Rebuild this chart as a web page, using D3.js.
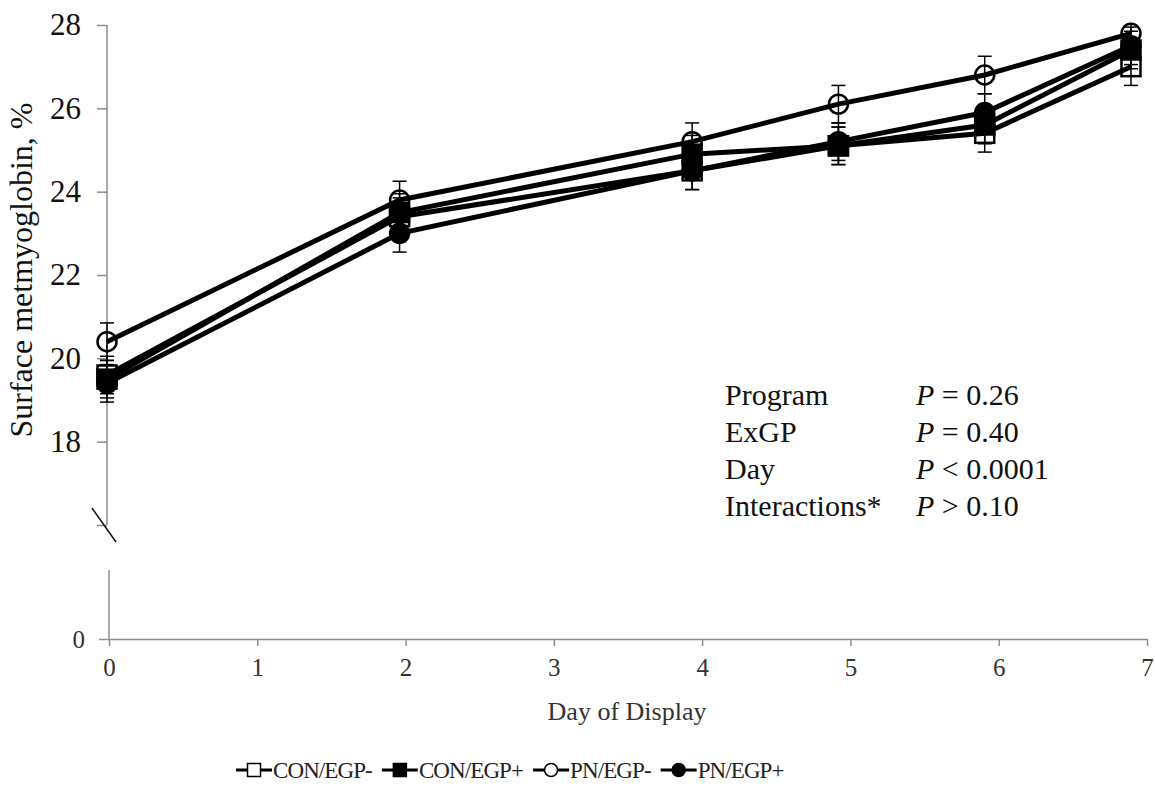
<!DOCTYPE html>
<html>
<head>
<meta charset="utf-8">
<script src="https://cdn.jsdelivr.net/npm/d3@7"></script>
<style>
  body { margin: 0; background: #fff; }
  text { font-family: "Liberation Serif", "Times New Roman", serif; }
</style>
</head>
<body>
<div id="container"></div>
<script>
// days of display
let days = [0, 2, 4, 5, 6, 7];
let seriesNames = ["CON/EGP-", "CON/EGP+", "PN/EGP-", "PN/EGP+"];
let conMinus = [19.6, 23.4, 24.5, 25.1, 25.4, 27.0];
let conPlus  = [19.5, 23.5, 24.9, 25.1, 25.6, 27.4];
let pnMinus  = [20.4, 23.8, 25.2, 26.1, 26.8, 27.8];
let pnPlus   = [19.4, 23.0, 24.5, 25.2, 25.9, 27.5];
// standard errors
let seConMinus = [0.45, 0.45, 0.45, 0.45, 0.45, 0.45];
let seConPlus  = [0.45, 0.45, 0.45, 0.45, 0.45, 0.45];
let sePnMinus  = [0.45, 0.45, 0.45, 0.45, 0.45, 0.45];
let sePnPlus   = [0.45, 0.45, 0.45, 0.45, 0.45, 0.45];
let yTicksTop = [16, 18, 20, 22, 24, 26, 28];
let xTicks = [0, 1, 2, 3, 4, 5, 6, 7];
let statLabels = ["Program", "ExGP", "Day", "Interactions*"];
let statSigns = ["=", "=", "<", ">"];
let statValues = ["0.26", "0.40", "0.0001", "0.10"];

let w = 1155;
let h = 790;
let axisGray = "#8c8c8c";

let viz = d3.select("#container")
  .append("svg")
    .attr("width", w)
    .attr("height", h)
;

// upper panel (the data part)
let xData = d3.scaleLinear().domain([0, 7]).range([107, 1131]);
let yTop = d3.scaleLinear().domain([16, 28]).range([525, 25]);

// lower panel (just the zero stub + day axis)
let xBottom = d3.scaleLinear().domain([0, 7]).range([109, 1147]);
let yBottom = d3.scaleLinear().domain([0, 1]).range([639, 570]);

// the upper plot clips everything above 28 like the spreadsheet does
viz.append("clipPath").attr("id", "plotclip")
  .append("rect")
    .attr("x", 0).attr("y", yTop(28))
    .attr("width", w).attr("height", yTop(16) - yTop(28));

let yAxisTop = d3.axisLeft(yTop)
  .tickValues(yTicksTop)
  .tickSize(10)
  .tickPadding(16)
  .tickFormat(function(d){ return d == 16 ? "" : d; })
;
let yAxisTopGroup = viz.append("g")
    .attr("class", "yaxistop")
    .attr("transform", "translate(" + xData(0) + ",0)")
    .call(yAxisTop)
;
yAxisTopGroup.select(".domain").attr("d", "M0," + yTop(16) + "V" + yTop(28));
yAxisTopGroup.selectAll("line, path").attr("stroke", axisGray).attr("stroke-width", 1.5);
yAxisTopGroup.selectAll("text")
  .attr("font-size", 31)
  .attr("fill", "#111");

// break mark
viz.append("line")
  .attr("x1", xData(0) - 15).attr("y1", yTop(16) - 17)
  .attr("x2", xData(0) + 9).attr("y2", yTop(16) + 17)
  .attr("stroke", "#111").attr("stroke-width", 1.5);

let yAxisBottom = d3.axisLeft(yBottom)
  .tickValues([0])
  .tickSize(10)
  .tickPadding(14)
  .tickFormat(d3.format("d"))
;
let yAxisBottomGroup = viz.append("g")
    .attr("transform", "translate(" + xBottom(0) + ",0)")
    .call(yAxisBottom)
;
yAxisBottomGroup.select(".domain").attr("d", "M0," + yBottom(1) + "V" + yBottom(0));
yAxisBottomGroup.selectAll("line, path").attr("stroke", axisGray).attr("stroke-width", 1.5);
yAxisBottomGroup.selectAll("text").attr("font-size", 25).attr("fill", "#333");

let xAxis = d3.axisBottom(xBottom)
  .tickValues(xTicks)
  .tickSize(7)
  .tickPadding(12)
  .tickSizeOuter(0)
  .tickFormat(d3.format("d"))
;
let xAxisGroup = viz.append("g")
    .attr("transform", "translate(0," + yBottom(0) + ")")
    .call(xAxis)
;
xAxisGroup.selectAll("line, path").attr("stroke", axisGray).attr("stroke-width", 1.5);
xAxisGroup.selectAll("text").attr("font-size", 25).attr("fill", "#333");

// axis titles
viz.append("text")
  .attr("transform", "translate(32,270) rotate(-90)")
  .attr("text-anchor", "middle")
  .attr("font-size", 32)
  .attr("fill", "#111")
  .text("Surface metmyoglobin, %");

viz.append("text")
  .attr("x", 627)
  .attr("y", 720)
  .attr("text-anchor", "middle")
  .attr("font-size", 26)
  .attr("fill", "#333")
  .text("Day of Display");

// statistics annotation
let stats = viz.append("g").attr("class", "stats");
statLabels.forEach(function(lab, i){
  let yy = 405 + i * 37;
  stats.append("text")
    .attr("x", 725).attr("y", yy)
    .attr("font-size", 30).attr("fill", "#111")
    .text(lab);
  let t = stats.append("text")
    .attr("x", 916).attr("y", yy)
    .attr("font-size", 30).attr("fill", "#111");
  t.append("tspan").attr("font-style", "italic").text("P");
  t.append("tspan").text(" " + statSigns[i] + " " + statValues[i]);
});

// build series
let allValues = [conMinus, conPlus, pnMinus, pnPlus];
let allSE = [seConMinus, seConPlus, sePnMinus, sePnPlus];
let shapes = ["square", "square", "circle", "circle"];
let filled = [false, true, false, true];

let series = seriesNames.map(function(name, s){
  return {
    name: name,
    shape: shapes[s],
    filled: filled[s],
    points: days.map(function(d, i){
      return { day: d, value: allValues[s][i], se: allSE[s][i] };
    })
  };
});

let lineMaker = d3.line()
  .x(function(d){ return xData(d.day); })
  .y(function(d){ return yTop(d.value); })
;

function drawMarker(g, shape, isFilled, size){
  if(shape == "square"){
    g.append("rect")
      .attr("x", -size / 2).attr("y", -size / 2)
      .attr("width", size).attr("height", size)
      .attr("fill", isFilled ? "#000" : "none")
      .attr("stroke", "#000")
      .attr("stroke-width", size > 14 ? 2.5 : 1.5);
  }else{
    g.append("circle")
      .attr("r", size / 2)
      .attr("fill", isFilled ? "#000" : "none")
      .attr("stroke", "#000")
      .attr("stroke-width", size > 14 ? 2.5 : 1.5);
  }
}

let graphGroup = viz.append("g").attr("class", "graphGroup");

series.forEach(function(sr){
  let sg = graphGroup.append("g");
  sg.append("path")
    .attr("d", lineMaker(sr.points))
    .attr("fill", "none")
    .attr("stroke", "#000")
    .attr("stroke-width", 5);

  sr.points.forEach(function(p){
    let mg = sg.append("g")
      .attr("transform", "translate(" + xData(p.day) + "," + yTop(p.value) + ")");
    drawMarker(mg, sr.shape, sr.filled, 19);
  });

  let eg = sg.append("g").attr("clip-path", "url(#plotclip)");
  sr.points.forEach(function(p){
    let ex = xData(p.day);
    let yHi = yTop(p.value + p.se);
    let yLo = yTop(p.value - p.se);
    eg.append("line")
      .attr("x1", ex).attr("x2", ex).attr("y1", yHi).attr("y2", yLo)
      .attr("stroke", "#000").attr("stroke-width", 1.5);
    [yHi, yLo].forEach(function(cy){
      eg.append("line")
        .attr("x1", ex - 7).attr("x2", ex + 7).attr("y1", cy).attr("y2", cy)
        .attr("stroke", "#000").attr("stroke-width", 1.5);
    });
  });
});

// legend
let legend = viz.append("g").attr("class", "legend");
let lx = 236;
let ly = 770;
series.forEach(function(sr){
  let item = legend.append("g").attr("transform", "translate(" + lx + "," + ly + ")");
  item.append("line")
    .attr("x1", 0).attr("x2", 36).attr("y1", 0).attr("y2", 0)
    .attr("stroke", "#000").attr("stroke-width", 3);
  let mg = item.append("g").attr("transform", "translate(18,0)");
  drawMarker(mg, sr.shape, sr.filled, 13);
  if(!sr.filled){ mg.select("rect, circle").attr("fill", "#fff"); }
  let t = item.append("text")
    .attr("x", 37).attr("y", 8)
    .attr("font-size", 23)
    .attr("fill", "#222")
    .attr("letter-spacing", -0.9)
    .text(sr.name);
  lx += 37 + t.node().getComputedTextLength() + 10;
});
</script>
</body>
</html>
